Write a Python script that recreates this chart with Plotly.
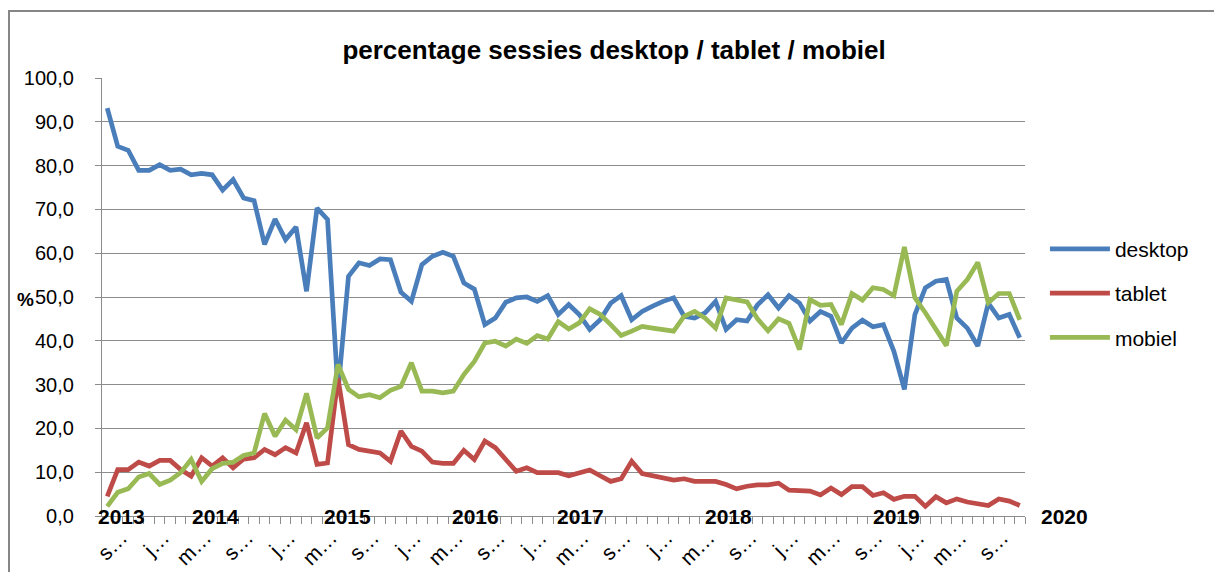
import plotly.graph_objects as go

# ---- data (percentages per month, Sept 2012 .. Dec 2019) ----
desktop = [93.1, 84.4, 83.5, 78.9, 78.9, 80.2, 78.9, 79.2, 77.9, 78.2,
           77.9, 74.4, 76.8, 72.6, 72.0, 62.0, 67.8, 63.1, 66.0, 51.3,
           70.3, 67.7, 28.5, 54.7, 57.8, 57.2, 58.7, 58.5, 51.1, 49.0,
           57.4, 59.3, 60.2, 59.3, 53.2, 51.8, 43.7, 45.2, 48.8, 49.8,
           50.0, 49.0, 50.3, 46.0, 48.3, 46.0, 42.6, 44.8, 48.6, 50.3,
           44.8, 46.7, 47.9, 49.0, 49.8, 45.6, 45.2, 46.4, 49.0, 42.6,
           44.8, 44.5, 48.2, 50.5, 47.5, 50.3, 48.6, 44.5, 46.7, 45.6,
           39.5, 42.9, 44.7, 43.2, 43.7, 37.6, 28.9, 46.0, 52.1, 53.6,
           54.0, 45.2, 42.9, 38.8, 48.6, 45.2, 46.0, 40.7]
tablet = [4.5, 10.6, 10.6, 12.3, 11.4, 12.7, 12.7, 10.6, 9.1, 13.3,
          11.4, 13.3, 11.0, 13.0, 13.3, 15.2, 14.0, 15.6, 14.4, 21.3,
          11.8, 12.1, 31.5, 16.3, 15.2, 14.8, 14.4, 12.5, 19.4, 15.9,
          14.8, 12.3, 12.0, 12.0, 15.0, 12.9, 17.1, 15.6, 12.9, 10.2,
          11.0, 9.9, 9.9, 9.9, 9.2, 9.9, 10.5, 9.2, 7.9, 8.5,
          12.5, 9.7, 9.2, 8.5, 8.2, 8.5, 7.9, 7.9, 7.9, 7.2,
          6.2, 6.8, 7.1, 7.1, 7.5, 5.9, 5.7, 5.7, 4.8, 6.4,
          4.9, 6.7, 6.7, 4.7, 5.3, 3.8, 4.5, 4.5, 2.2, 4.4,
          3.0, 3.9, 3.2, 2.9, 2.4, 3.9, 3.4, 2.4]
mobiel = [2.2, 5.4, 6.2, 8.9, 9.7, 7.2, 8.2, 9.9, 12.9, 7.9,
          10.8, 12.0, 12.3, 13.8, 14.4, 23.4, 18.2, 21.9, 19.7, 28.0,
          17.8, 20.1, 34.6, 28.9, 27.2, 27.7, 27.0, 28.7, 29.6, 35.0,
          28.5, 28.5, 28.1, 28.5, 32.3, 35.3, 39.5, 39.9, 38.8, 40.4,
          39.4, 41.2, 40.4, 44.4, 42.7, 44.1, 47.3, 46.0, 43.7, 41.2,
          42.2, 43.3, 42.9, 42.6, 42.2, 45.6, 46.7, 45.2, 42.9, 49.8,
          49.3, 48.9, 45.0, 42.3, 45.0, 44.0, 38.0, 49.4, 48.1, 48.3,
          43.7, 50.8, 49.3, 52.1, 51.7, 50.3, 61.4, 49.8, 46.4, 42.6,
          38.9, 51.3, 54.0, 57.9, 48.7, 50.8, 50.8, 44.8]

series_names = ["desktop", "tablet", "mobiel"]
series_colors = ["#4A7EBB", "#BE4B48", "#98B954"]

# month-axis labels, every 4th month shown (september, januari, mei ...)
tick_labels = ["s…", "j…", "m…", "s…", "j…", "m…", "s…", "j…", "m…", "s…", "j…",
               "m…", "s…", "j…", "m…", "s…", "j…", "m…", "s…", "j…", "m…", "s…"]
tick_step = 4

# year text boxes (placed along the bottom of the plot, paper fractions)
years = ["2013", "2014", "2015", "2016", "2017", "2018", "2019", "2020"]
year_pos = [0.0206, 0.1235, 0.266, 0.4052, 0.5179, 0.6788, 0.8608, 1.0428]

title_text = "percentage sessies desktop / tablet / mobiel"

x = list(range(len(desktop)))
FONT = "Liberation Sans"
GRID = "#8C8C8C"

fig = go.Figure()
for name, vals, col in zip(series_names, [desktop, tablet, mobiel], series_colors):
    fig.add_trace(go.Scatter(x=x, y=vals, name=name, mode="lines",
                             line=dict(color=col, width=4.7), legendgroup=name))

fig.update_layout(
    width=1214, height=572,
    margin=dict(l=102, r=189, t=78, b=56, autoexpand=False),
    paper_bgcolor="white", plot_bgcolor="white",
    separators=",.",
    font=dict(family=FONT, size=21, color="black"),
    title=dict(text="<b>" + title_text + "</b>", x=0.5058, xanchor="center",
               y=0.912, yanchor="middle", font=dict(family=FONT, size=26, color="black")),
    showlegend=True,
    legend=dict(x=1.0216, xanchor="left", y=0.656, yanchor="top",
                font=dict(family=FONT, size=21, color="black"),
                tracegroupgap=14, itemwidth=60, bgcolor="rgba(0,0,0,0)"),
)

fig.update_yaxes(range=[0, 100], dtick=10, tickformat=".1f", automargin=False,
                 showgrid=True, gridcolor=GRID, gridwidth=1.3,
                 showline=True, linecolor=GRID, linewidth=1.3,
                 ticks="outside", ticklen=6, tickcolor=GRID, tickwidth=1.3,
                 ticklabelstandoff=17, zeroline=False,
                 tickfont=dict(family=FONT, size=20, color="black"))

fig.update_xaxes(range=[-0.5, len(desktop) - 0.5], automargin=False,
                 tickmode="array",
                 tickvals=[i * tick_step for i in range(len(tick_labels))],
                 ticktext=tick_labels, tickangle=-45, ticks="",
                 ticklabelshift=14,
                 showgrid=False, zeroline=False,
                 showline=True, linecolor=GRID, linewidth=1.3,
                 tickfont=dict(family=FONT, size=21, color="black"),
                 minor=dict(tick0=-0.5, dtick=1, ticks="outside", ticklen=7,
                            tickcolor=GRID, tickwidth=1.3, showgrid=False))

for yr, pos in zip(years, year_pos):
    fig.add_annotation(x=pos, y=-0.002, xref="paper", yref="paper", text="<b>" + yr + "</b>",
                       showarrow=False, xanchor="center", yanchor="middle",
                       font=dict(family=FONT, size=21, color="black"))

fig.add_annotation(x=-0.0825, y=0.494, xref="paper", yref="paper", text="<b>%</b>",
                   showarrow=False, xanchor="center", yanchor="middle",
                   font=dict(family=FONT, size=19, color="black"))

# outer chart border (top and left edges visible in the frame)
fig.add_shape(type="rect", xref="paper", yref="paper",
              x0=(9 - 102) / 923, x1=1.3, y0=-0.3, y1=(516 - 11) / 438,
              line=dict(color="#868686", width=2), fillcolor="rgba(0,0,0,0)", layer="below")

fig.write_html("out.html", config={"displayModeBar": False},
               post_script="document.body.style.margin='0px';document.body.style.overflow='hidden';")
